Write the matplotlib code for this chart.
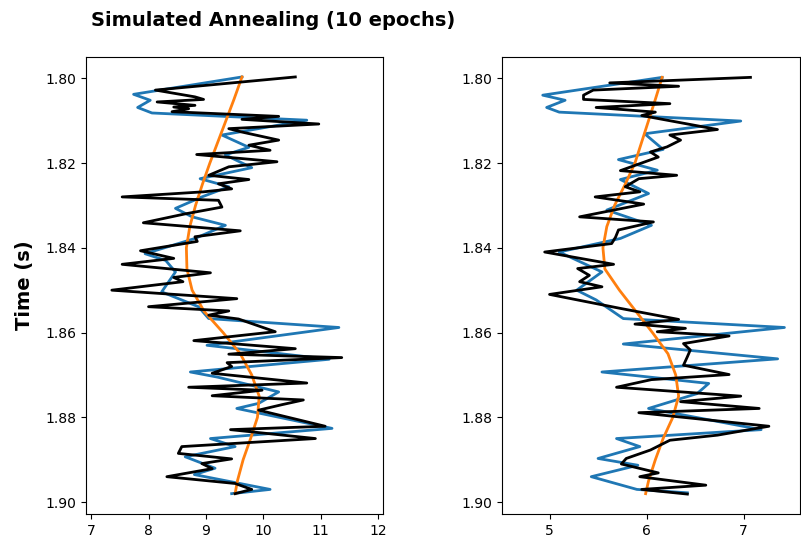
import matplotlib
matplotlib.use("Agg")
import matplotlib.pyplot as plt

# ---- left panel ----
t_blk_l = [1.7997, 1.8028, 1.8044, 1.8050, 1.8056, 1.8064, 1.8068, 1.8072, 1.8079, 1.8090,
           1.8097, 1.8108, 1.8119, 1.8127, 1.8146, 1.8158, 1.8170, 1.8180, 1.8197, 1.8209,
           1.8229, 1.8239, 1.8249, 1.8261, 1.8268, 1.8280, 1.8288, 1.8304, 1.8320, 1.8341,
           1.8360, 1.8374, 1.8385, 1.8407, 1.8425, 1.8439, 1.8459, 1.8470, 1.8480, 1.8500,
           1.8520, 1.8539, 1.8549, 1.8559, 1.8568, 1.8598, 1.8619, 1.8638, 1.8651, 1.8659,
           1.8671, 1.8680, 1.8696, 1.8719, 1.8729, 1.8736, 1.8749, 1.8759, 1.8770, 1.8783,
           1.8821, 1.8829, 1.8850, 1.8869, 1.8885, 1.8898, 1.8909, 1.8921, 1.8940, 1.8956,
           1.8970, 1.8980]
x_blk_l = [10.56, 8.12, 8.81, 8.96, 8.15, 8.81, 8.44, 8.70, 8.41, 10.27,
           9.63, 10.97, 9.40, 9.63, 10.27, 9.75, 10.12, 8.84, 10.24, 9.40,
           9.05, 9.75, 9.22, 9.45, 8.96, 7.54, 9.22, 9.28, 8.64, 7.91,
           9.60, 8.81, 8.85, 7.86, 8.44, 7.54, 9.08, 8.44, 8.60, 7.36,
           9.54, 8.00, 9.40, 9.05, 9.57, 10.21, 8.79, 10.56, 9.40, 11.37,
           9.37, 9.45, 9.11, 10.76, 8.70, 9.98, 9.11, 10.70, 10.33, 9.92,
           11.08, 9.43, 10.91, 8.58, 8.52, 9.45, 8.93, 9.11, 8.32, 9.51,
           9.80, 9.51]

t_blu_l = [1.7997, 1.8038, 1.8052, 1.8069, 1.8082, 1.8099, 1.8134, 1.8163, 1.8181, 1.8211,
           1.8237, 1.8256, 1.8280, 1.8307, 1.8327, 1.8347, 1.8378, 1.8414, 1.8430, 1.8457,
           1.8504, 1.8539, 1.8567, 1.8588, 1.8630, 1.8663, 1.8693, 1.8705, 1.8740, 1.8767,
           1.8779, 1.8826, 1.8850, 1.8869, 1.8893, 1.8920, 1.8935, 1.8970, 1.8980]
x_blu_l = [9.63, 7.74, 8.03, 7.81, 8.06, 10.76, 9.28, 9.75, 9.34, 9.80,
           8.90, 9.40, 8.93, 8.47, 8.76, 9.34, 8.81, 7.94, 8.30, 8.47,
           8.23, 8.87, 9.05, 11.32, 9.02, 11.15, 8.73, 9.20, 10.27, 9.92,
           9.54, 11.20, 9.08, 9.51, 8.64, 9.16, 8.80, 10.12, 9.45]

t_org_l = [1.7997, 1.805, 1.810, 1.815, 1.820, 1.825, 1.830, 1.835, 1.840, 1.845, 1.850,
           1.855, 1.860, 1.865, 1.870, 1.875, 1.880, 1.885, 1.890, 1.895, 1.898]
x_org_l = [9.63, 9.49, 9.35, 9.21, 9.07, 8.94, 8.82, 8.72, 8.66, 8.67, 8.76,
           8.97, 9.30, 9.60, 9.80, 9.93, 9.90, 9.78, 9.65, 9.55, 9.51]

# ---- right panel ----
t_blk_r = [1.7998, 1.8011, 1.8019, 1.8028, 1.8040, 1.8050, 1.8060, 1.8069, 1.8080, 1.8088,
           1.8121, 1.8134, 1.8146, 1.8162, 1.8174, 1.8186, 1.8218, 1.8229, 1.8237, 1.8256,
           1.8268, 1.8280, 1.8297, 1.8327, 1.8339, 1.8358, 1.8375, 1.8390, 1.8410, 1.8439,
           1.8449, 1.8465, 1.8480, 1.8492, 1.8510, 1.8543, 1.8569, 1.8580, 1.8590, 1.8598,
           1.8608, 1.8626, 1.8641, 1.8657, 1.8677, 1.8699, 1.8711, 1.8729, 1.8750, 1.8763,
           1.8779, 1.8789, 1.8821, 1.8842, 1.8854, 1.8877, 1.8897, 1.8910, 1.8931, 1.8940,
           1.8960, 1.8970, 1.8981]
x_blk_r = [7.07, 5.62, 6.33, 5.45, 5.35, 5.35, 6.24, 5.48, 6.09, 5.95,
           6.73, 6.24, 6.35, 6.21, 6.04, 6.12, 5.73, 6.31, 5.92, 5.78,
           5.93, 5.47, 5.97, 5.31, 6.07, 5.71, 5.68, 5.64, 4.95, 5.66,
           5.29, 5.41, 5.31, 5.54, 5.00, 5.73, 6.33, 5.88, 6.40, 6.11,
           6.85, 6.38, 6.45, 6.42, 6.38, 6.85, 6.05, 5.69, 6.97, 6.35,
           7.16, 5.92, 7.26, 6.73, 6.24, 6.04, 5.79, 5.74, 6.12, 5.93,
           6.61, 5.95, 6.42]

t_blu_r = [1.7998, 1.8040, 1.8052, 1.8069, 1.8080, 1.8101, 1.8131, 1.8168, 1.8192, 1.8217,
           1.8239, 1.8272, 1.8311, 1.8347, 1.8378, 1.8410, 1.8457, 1.8500, 1.8523, 1.8567,
           1.8588, 1.8627, 1.8662, 1.8693, 1.8720, 1.8744, 1.8779, 1.8829, 1.8850, 1.8869,
           1.8897, 1.8913, 1.8940, 1.8970, 1.8978]
x_blu_r = [6.16, 4.93, 5.16, 4.97, 5.10, 6.97, 5.98, 6.17, 5.71, 6.11,
           5.73, 6.02, 5.59, 6.05, 5.73, 5.10, 5.54, 5.28, 5.48, 5.76,
           7.42, 5.76, 7.35, 5.54, 6.64, 6.52, 6.02, 7.18, 5.69, 5.93,
           5.50, 5.91, 5.43, 5.90, 6.42]

t_org_r = [1.7998, 1.805, 1.810, 1.815, 1.820, 1.825, 1.830, 1.835, 1.840, 1.845, 1.850,
           1.855, 1.860, 1.865, 1.870, 1.875, 1.880, 1.885, 1.890, 1.895, 1.898]
x_org_r = [6.16, 6.09, 6.02, 5.95, 5.88, 5.78, 5.67, 5.59, 5.55, 5.57, 5.72,
           5.89, 6.06, 6.22, 6.30, 6.33, 6.27, 6.17, 6.09, 6.02, 5.99]

fig = plt.figure(figsize=(8.01, 5.41), dpi=100)
ax1 = fig.add_axes([0.1074, 0.0499, 0.3708, 0.8447])
ax2 = fig.add_axes([0.6267, 0.0499, 0.3720, 0.8447])

for ax, tb, xb, tk, xk, to, xo in [
    (ax1, t_blu_l, x_blu_l, t_blk_l, x_blk_l, t_org_l, x_org_l),
    (ax2, t_blu_r, x_blu_r, t_blk_r, x_blk_r, t_org_r, x_org_r),
]:
    ax.plot(xb, tb, color="tab:blue", lw=2.0)
    ax.plot(xo, to, color="tab:orange", lw=2.0)
    ax.plot(xk, tk, color="black", lw=2.0)
    ax.set_ylim(1.9028, 1.7950)
    ax.set_yticks([1.80, 1.82, 1.84, 1.86, 1.88, 1.90])

ax1.set_xlim(6.91, 12.09)
ax1.set_xticks([7, 8, 9, 10, 11, 12])
ax2.set_xlim(4.51, 7.58)
ax2.set_xticks([5, 6, 7])

ax1.set_ylabel("Time (s)", fontsize=14, fontweight="bold", labelpad=8)
fig.text(0.1136, 0.963, "Simulated Annealing (10 epochs)", fontsize=14,
         fontweight="bold", va="center", ha="left")

fig.savefig("out.png", dpi=100)
